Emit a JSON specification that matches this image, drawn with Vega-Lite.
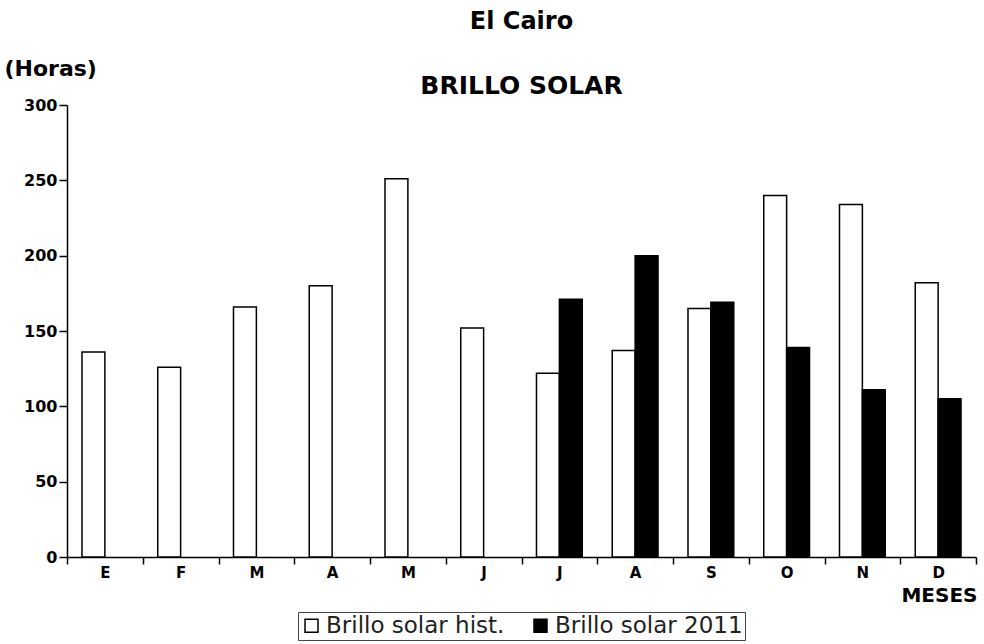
{
  "$schema": "https://vega.github.io/schema/vega-lite/v6.json",
  "width": 909,
  "height": 452,
  "autosize": "none",
  "padding": {"left": 67, "top": 105, "right": 8, "bottom": 87},
  "background": "white",
  "title": {
    "text": "El Cairo",
    "subtitle": "BRILLO SOLAR",
    "anchor": "middle",
    "frame": "group",
    "font": "DejaVu Sans",
    "fontSize": 24,
    "fontWeight": "bold",
    "color": "black",
    "subtitleFont": "DejaVu Sans",
    "subtitleFontSize": 25,
    "subtitleFontWeight": "bold",
    "subtitleColor": "black",
    "subtitlePadding": 40,
    "offset": -42
  },
  "data": {
    "values": [
      {"mes": "Ene", "serie": "Brillo solar hist.", "horas": 136},
      {"mes": "Feb", "serie": "Brillo solar hist.", "horas": 126},
      {"mes": "Mar", "serie": "Brillo solar hist.", "horas": 166},
      {"mes": "Abr", "serie": "Brillo solar hist.", "horas": 180},
      {"mes": "May", "serie": "Brillo solar hist.", "horas": 251},
      {"mes": "Jun", "serie": "Brillo solar hist.", "horas": 152},
      {"mes": "Jul", "serie": "Brillo solar hist.", "horas": 122},
      {"mes": "Ago", "serie": "Brillo solar hist.", "horas": 137},
      {"mes": "Sep", "serie": "Brillo solar hist.", "horas": 165},
      {"mes": "Oct", "serie": "Brillo solar hist.", "horas": 240},
      {"mes": "Nov", "serie": "Brillo solar hist.", "horas": 234},
      {"mes": "Dic", "serie": "Brillo solar hist.", "horas": 182},
      {"mes": "Jul", "serie": "Brillo solar 2011", "horas": 171},
      {"mes": "Ago", "serie": "Brillo solar 2011", "horas": 200},
      {"mes": "Sep", "serie": "Brillo solar 2011", "horas": 169},
      {"mes": "Oct", "serie": "Brillo solar 2011", "horas": 139},
      {"mes": "Nov", "serie": "Brillo solar 2011", "horas": 111},
      {"mes": "Dic", "serie": "Brillo solar 2011", "horas": 105}
    ]
  },
  "mark": {"type": "bar", "stroke": "black", "strokeWidth": 1.5},
  "encoding": {
    "x": {
      "field": "mes",
      "type": "nominal",
      "sort": ["Ene", "Feb", "Mar", "Abr", "May", "Jun", "Jul", "Ago", "Sep", "Oct", "Nov", "Dic"],
      "scale": {"paddingInner": 0, "paddingOuter": 0},
      "axis": {
        "title": "MESES",
        "titleAlign": "right",
        "titleAnchor": "end",
        "titleX": 910,
        "titleY": 44,
        "titleBaseline": "alphabetic",
        "titleFont": "DejaVu Sans",
        "titleFontSize": 20,
        "titleFontWeight": "bold",
        "titleColor": "black",
        "labelExpr": "substring(datum.label, 0, 1)",
        "labelAngle": 0,
        "labelFont": "DejaVu Sans",
        "labelFontWeight": "bold",
        "labelFontSize": 15,
        "labelColor": "black",
        "labelPadding": 1,
        "tickBand": "extent",
        "tickSize": 7,
        "tickColor": "black",
        "tickWidth": 1.5,
        "domainColor": "black",
        "domainWidth": 1.5,
        "grid": false
      }
    },
    "xOffset": {
      "field": "serie",
      "type": "nominal",
      "sort": ["Brillo solar hist.", "Brillo solar 2011"],
      "scale": {"paddingInner": 0, "paddingOuter": 0.655}
    },
    "y": {
      "field": "horas",
      "type": "quantitative",
      "scale": {"domain": [0, 300], "nice": false},
      "axis": {
        "title": "(Horas)",
        "titleAngle": 0,
        "titleAlign": "left",
        "titleBaseline": "alphabetic",
        "titleX": -63,
        "titleY": -30,
        "titleFont": "DejaVu Sans",
        "titleFontSize": 22,
        "titleFontWeight": "bold",
        "titleColor": "black",
        "values": [0, 50, 100, 150, 200, 250, 300],
        "grid": false,
        "tickSize": 8,
        "tickColor": "black",
        "tickWidth": 1.5,
        "labelPadding": 2,
        "labelFont": "DejaVu Sans",
        "labelFontWeight": "bold",
        "labelFontSize": 16,
        "labelColor": "black",
        "domainColor": "black",
        "domainWidth": 1.5
      }
    },
    "color": {
      "field": "serie",
      "type": "nominal",
      "sort": ["Brillo solar hist.", "Brillo solar 2011"],
      "scale": {"domain": ["Brillo solar hist.", "Brillo solar 2011"], "range": ["white", "black"]},
      "legend": {
        "orient": "none",
        "legendX": 231,
        "legendY": 507,
        "direction": "horizontal",
        "title": null,
        "symbolType": "square",
        "symbolSize": 169,
        "symbolStrokeColor": "black",
        "symbolStrokeWidth": 1.5,
        "labelFont": "DejaVu Sans",
        "labelFontSize": 23,
        "labelColor": "#222",
        "labelOffset": 3,
        "labelLimit": 0,
        "columnPadding": 24,
        "padding": 2,
        "strokeColor": "#444"
      }
    }
  },
  "config": {"view": {"stroke": null}}
}
